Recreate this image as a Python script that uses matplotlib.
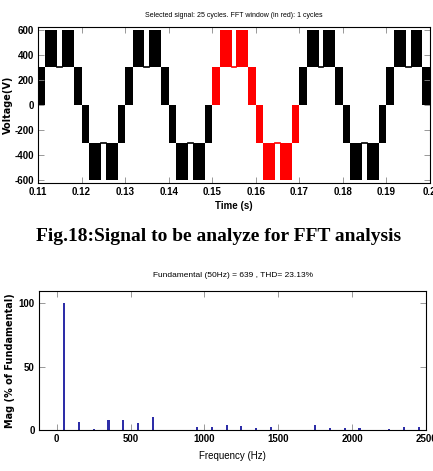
import numpy as np
import matplotlib.pyplot as plt

plt.rcParams['axes.unicode_minus'] = False

# --- time signal: one cycle of the staircase, times in ms from the upward zero crossing
seg_start = [0.0, 1.7, 4.45, 5.55, 8.3, 10.0, 11.7, 14.45, 15.55, 18.3]
seg_end = [1.7, 4.45, 5.55, 8.3, 10.0, 11.7, 14.45, 15.55, 18.3, 20.0]
seg_low = [0, 300, 300, 300, 0, -300, -595, -300, -595, -300]
seg_high = [300, 595, 300, 595, 300, 0, -300, -300, -300, 0]
cycle_starts = [0.11, 0.13, 0.15, 0.17, 0.19]
fft_cycle = 0.15  # cycle drawn in red

time_ticks = [0.11, 0.12, 0.13, 0.14, 0.15, 0.16, 0.17, 0.18, 0.19, 0.2]
time_labels = ['0.11', '0.12', '0.13', '0.14', '0.15', '0.16', '0.17', '0.18', '0.19', '0.2']
volt_ticks = [-600, -400, -200, 0, 200, 400, 600]

# --- spectrum
freqs = [50, 150, 250, 350, 450, 550, 650, 950, 1050, 1150, 1250, 1350, 1450,
         1750, 1850, 1950, 2050, 2250, 2350, 2450]
mags = [100, 6.6, 0.8, 7.9, 7.9, 5.5, 10.0, 2.1, 2.1, 3.7, 2.9, 1.3, 2.1,
        3.7, 1.6, 1.3, 1.3, 0.5, 2.1, 2.1]

narrow = ['Liberation Sans Narrow', 'Liberation Sans', 'DejaVu Sans']

fig = plt.figure(figsize=(4.33, 4.71), dpi=100)

ax1 = fig.add_axes([0.0878, 0.6115, 0.905, 0.331])
for c in cycle_starts:
    col = 'red' if c == fft_cycle else 'black'
    for t0, t1, lo, hi in zip(seg_start, seg_end, seg_low, seg_high):
        x0 = c + t0 / 1000
        x1 = c + t1 / 1000
        if lo == hi:
            ax1.plot([x0, x1], [lo, hi], color=col, lw=1.2)
        else:
            ax1.fill_between([x0, x1], [lo, lo], [hi, hi], color=col, lw=0)
ax1.set_xlim(0.11, 0.2)
ax1.set_ylim(-620, 620)
ax1.set_xticks(time_ticks)
ax1.set_xticklabels(time_labels)
ax1.set_yticks(volt_ticks)
ax1.set_title('Selected signal: 25 cycles. FFT window (in red): 1 cycles',
              fontsize=5, family=narrow, pad=7)
ax1.set_xlabel('Time (s)', fontsize=7, fontweight='bold', family=narrow, labelpad=3)
ax1.set_ylabel('Voltage(V)', fontsize=7, fontweight='bold', labelpad=1)

fig.text(0.505, 0.497, 'Fig.18:Signal to be analyze for FFT analysis',
         ha='center', va='center', fontsize=14, fontweight='bold',
         family='Liberation Serif')

ax2 = fig.add_axes([0.090, 0.087, 0.894, 0.295])
ax2.bar(freqs, mags, width=15, color='#2e2ea8', lw=0)
ax2.set_xlim(-120, 2500)
ax2.set_ylim(0, 109.5)
ax2.set_xticks([0, 500, 1000, 1500, 2000, 2500])
ax2.set_yticks([0, 50, 100])
ax2.set_title('Fundamental (50Hz) = 639 , THD= 23.13%', fontsize=6,
              family=narrow, pad=10)
ax2.set_xlabel('Frequency (Hz)', fontsize=7, family=narrow, labelpad=5)
ax2.set_ylabel('Mag (% of Fundamental)', fontsize=7, fontweight='bold', labelpad=3)

for ax in (ax1, ax2):
    ax.tick_params(direction='in', top=True, right=True, length=4, width=0.6,
                   color='#888888', labelsize=7, pad=3)
    for lab in ax.get_xticklabels() + ax.get_yticklabels():
        lab.set_family(narrow)
        lab.set_fontweight('bold')
    for sp in ax.spines.values():
        sp.set_linewidth(0.8)

fig.savefig('out.png', dpi=100)
